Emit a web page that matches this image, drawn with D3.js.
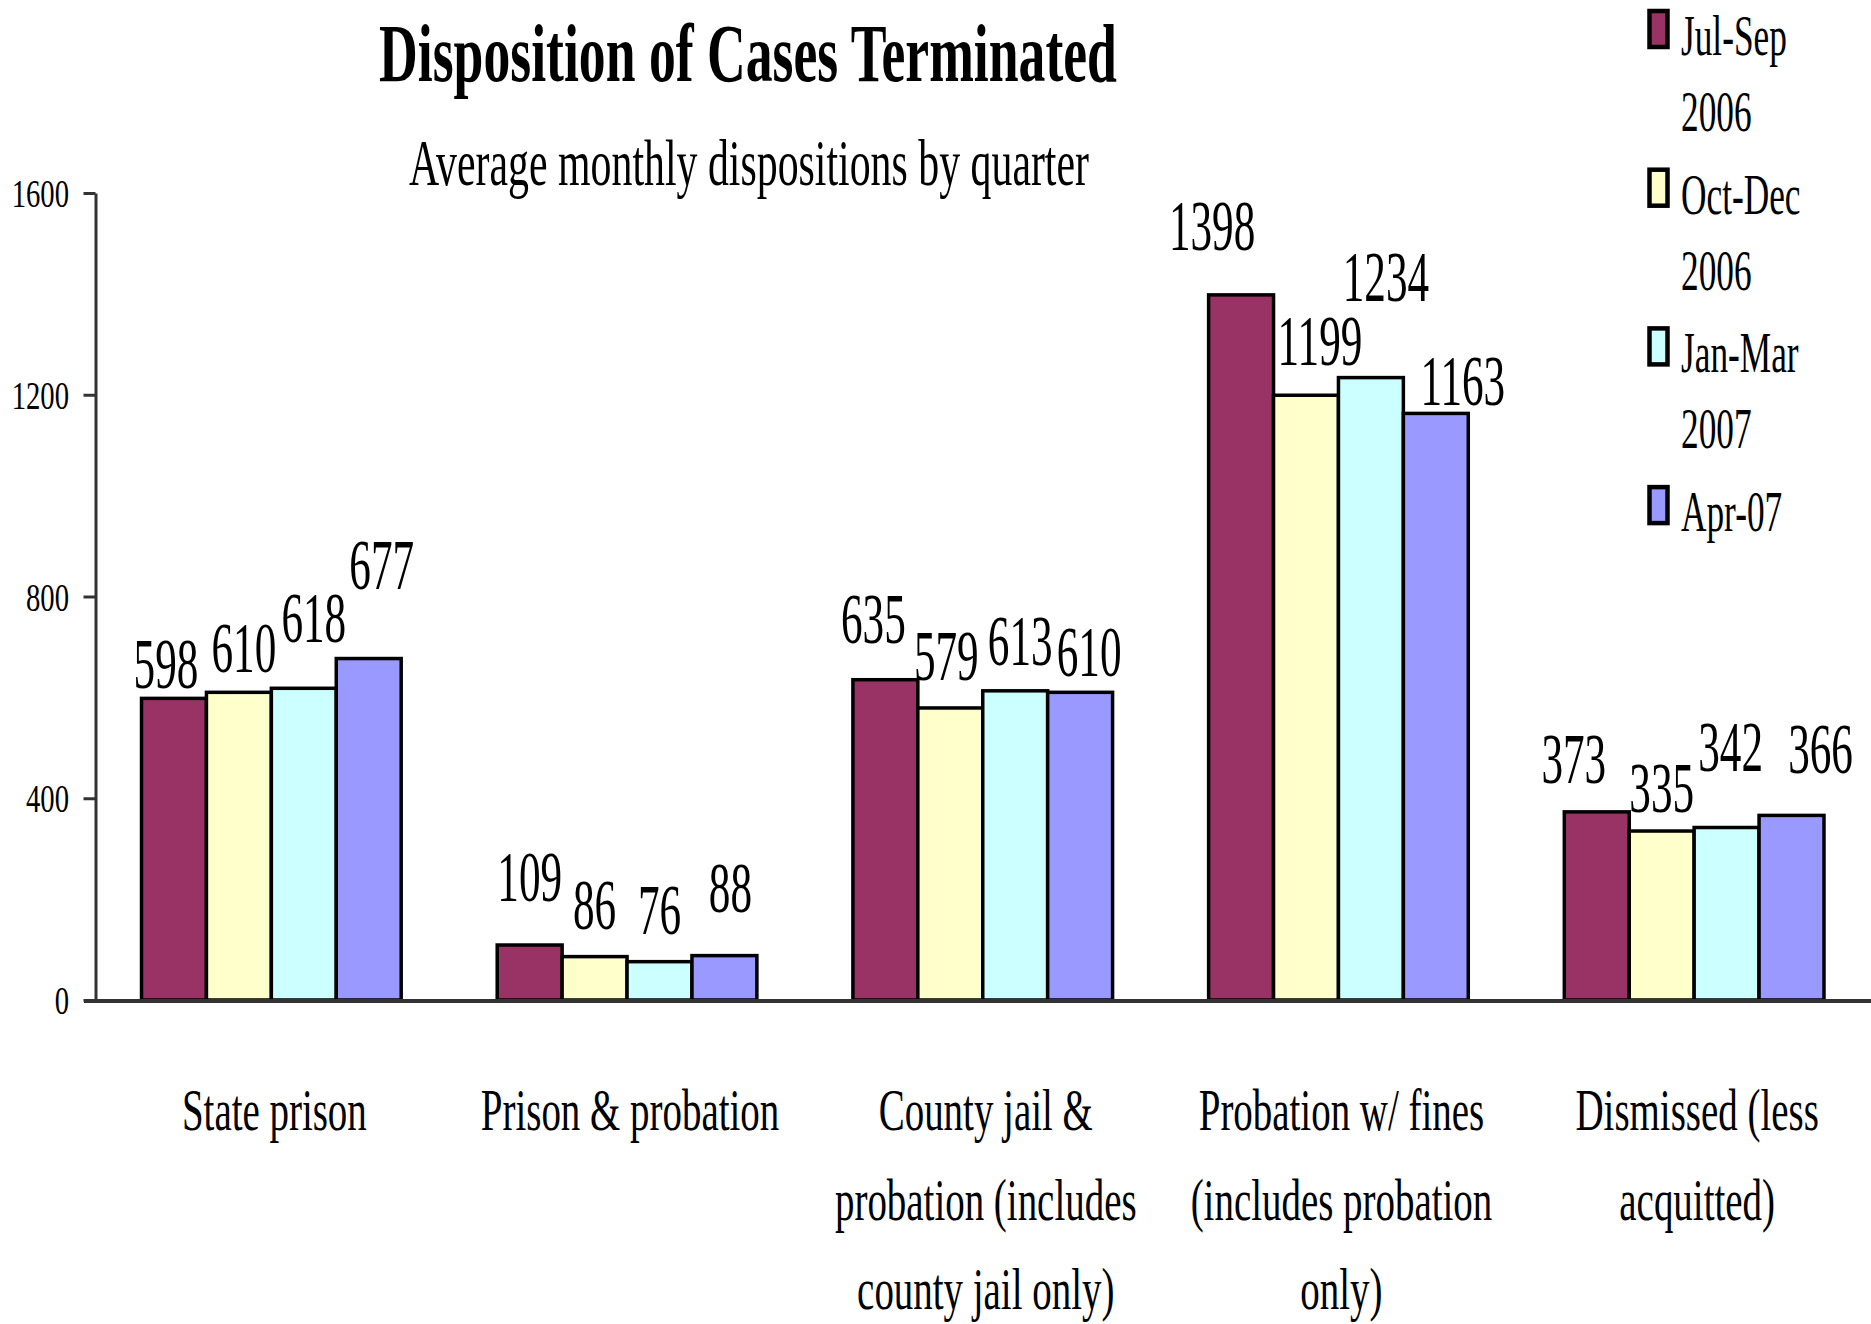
<!DOCTYPE html>
<html>
<head>
<meta charset="utf-8">
<script src="https://cdn.jsdelivr.net/npm/d3@7"></script>
<style>
  body { margin: 0; background: #fff; }
  svg text { font-family: "Liberation Serif", "Times New Roman", serif; fill: #000; }
</style>
</head>
<body>
<svg id="chart"></svg>
<script>
// data
const categories = [
    'State prison',
    'Prison & probation',
    'County jail & probation (includes county jail only)',
    'Probation w/ fines (includes probation only)',
    'Dismissed (less acquitted)'
];
const quarters = ['Jul-Sep 2006', 'Oct-Dec 2006', 'Jan-Mar 2007', 'Apr-07'];
const julSep2006 = [598, 109, 635, 1398, 373];
const octDec2006 = [610, 86, 579, 1199, 335];
const janMar2007 = [618, 76, 613, 1234, 342];
const apr2007 = [677, 88, 610, 1163, 366];
const yTicks = [0, 400, 800, 1200, 1600];

const colors = ['#993366', '#FFFFCC', '#CCFFFF', '#9999FF'];

// hand placed value labels in the original: [dx, lift above bar] in px
const labelNudge = [
    [[-8, 10], [5, 20], [10, 46], [13, 70]],
    [[0, 44], [0, 28], [0, 28], [6, 44]],
    [[-12, 37], [-4, 28], [5, 26], [9, 16]],
    [[-29, 45], [14, 30], [15, 77], [27, 8]],
    [[-23, 29], [0, 19], [4, 57], [29, 42]]
];

let width = 1871, height = 1324;
let seriesValues = [julSep2006, octDec2006, janMar2007, apr2007];

let svg = d3.select('#chart')
    .attr('width', width)
    .attr('height', height);

let x0 = d3.scaleBand()
    .domain(categories)
    .range([93.5, 1872])
    .paddingInner(0.27)
    .paddingOuter(0.135);

let x1 = d3.scaleBand()
    .domain(quarters)
    .range([0, x0.bandwidth()]);

let y = d3.scaleLinear()
    .domain([0, 1600])
    .range([1000, 193]);

// text squeezed horizontally, the original face is a condensed garamond
let squeezed = (parent, x, yPos, str, size, k, anchor, weight) => {
    return parent.append('text')
        .attr('transform', 'translate(' + x + ',' + yPos + ') scale(' + k + ',1)')
        .attr('text-anchor', anchor || 'middle')
        .style('font-size', size + 'px')
        .style('font-weight', weight || 'normal')
        .text(str);
};

let fitted = (parent, cx, yPos, str, size, targetWidth, weight) => {
    let t = parent.append('text')
        .attr('text-anchor', 'middle')
        .style('font-size', size + 'px')
        .style('font-weight', weight || 'normal')
        .text(str);
    let k = targetWidth / t.node().getComputedTextLength();
    t.attr('transform', 'translate(' + cx + ',' + yPos + ') scale(' + k + ',1)');
    return t;
};

// Titles.
fitted(svg, 748, 81, 'Disposition of Cases Terminated', 83, 738, 'bold');
fitted(svg, 749, 185, 'Average monthly dispositions by quarter', 66, 680);

// Y axis.
let yAxis = svg.append('g')
    .attr('transform', 'translate(95.5,0)')
    .call(d3.axisLeft(y).tickValues(yTicks).tickSize(12).tickSizeOuter(0).tickFormat(d3.format('d')));
yAxis.select('.domain').attr('stroke', '#333').attr('stroke-width', 3);
yAxis.selectAll('.tick line').attr('stroke', '#333').attr('stroke-width', 3);
yAxis.selectAll('.tick text')
    .attr('x', -26.5 / 0.7)
    .attr('transform', 'scale(0.7,1)')
    .attr('dy', '0.33em')
    .style('font-size', '41px')
    .style('font-family', '"Liberation Serif", serif')
    .attr('fill', '#000');

// Bars.
let groups = svg.append('g')
    .selectAll('g')
    .data(categories)
  .enter().append('g')
    .attr('transform', d => 'translate(' + x0(d) + ',0)');

groups.selectAll('rect')
    .data((d, i) => quarters.map((q, j) => ({ q: q, j: j, value: seriesValues[j][i] })))
  .enter().append('rect')
    .attr('x', d => x1(d.q))
    .attr('y', d => y(d.value))
    .attr('width', x1.bandwidth())
    .attr('height', d => y(0) - y(d.value))
    .attr('fill', d => colors[d.j])
    .attr('stroke', '#000')
    .attr('stroke-width', 3.5);

// Value labels.
groups.each(function (cat, i) {
    let g = d3.select(this);
    quarters.forEach((q, j) => {
        let v = seriesValues[j][i];
        let n = labelNudge[i][j];
        squeezed(g, x1(q) + x1.bandwidth() / 2 + n[0], y(v) - n[1], d3.format('d')(v), 72, 0.6);
    });
});

// X axis baseline.
svg.append('line')
    .attr('x1', 84)
    .attr('x2', width)
    .attr('y1', y(0) + 1)
    .attr('y2', y(0) + 1)
    .attr('stroke', '#333')
    .attr('stroke-width', 4);

// Category labels, wrapped like the original.
let catK = 0.66, catSize = 59, wrapWidth = 318;
let measure = svg.append('text').style('font-size', catSize + 'px');
let wrapWords = (str) => {
    let words = str.split(' '), lines = [], line = [];
    words.forEach(w => {
        let test = line.concat([w]).join(' ');
        measure.text(test);
        if (line.length && measure.node().getComputedTextLength() * catK > wrapWidth) {
            lines.push(line.join(' '));
            line = [w];
        } else {
            line.push(w);
        }
    });
    lines.push(line.join(' '));
    return lines;
};
categories.forEach(c => {
    wrapWords(c).forEach((ln, k) => {
        squeezed(svg, x0(c) + x0.bandwidth() / 2 + 3, 1130 + k * 89.5, ln, catSize, catK);
    });
});
measure.remove();

// Legend.
let legend = svg.append('g').attr('transform', 'translate(1648,55)');
quarters.forEach((q, j) => {
    let item = legend.append('g').attr('transform', 'translate(0,' + j * 158.7 + ')');
    item.append('rect')
        .attr('x', 1.5)
        .attr('y', -44)
        .attr('width', 18)
        .attr('height', 36)
        .attr('fill', colors[j])
        .attr('stroke', '#000')
        .attr('stroke-width', 4.5);
    q.split(' ').forEach((part, k) => {
        squeezed(item, 33, k * 76, part, 56, 0.63, 'start');
    });
});
</script>
</body>
</html>
